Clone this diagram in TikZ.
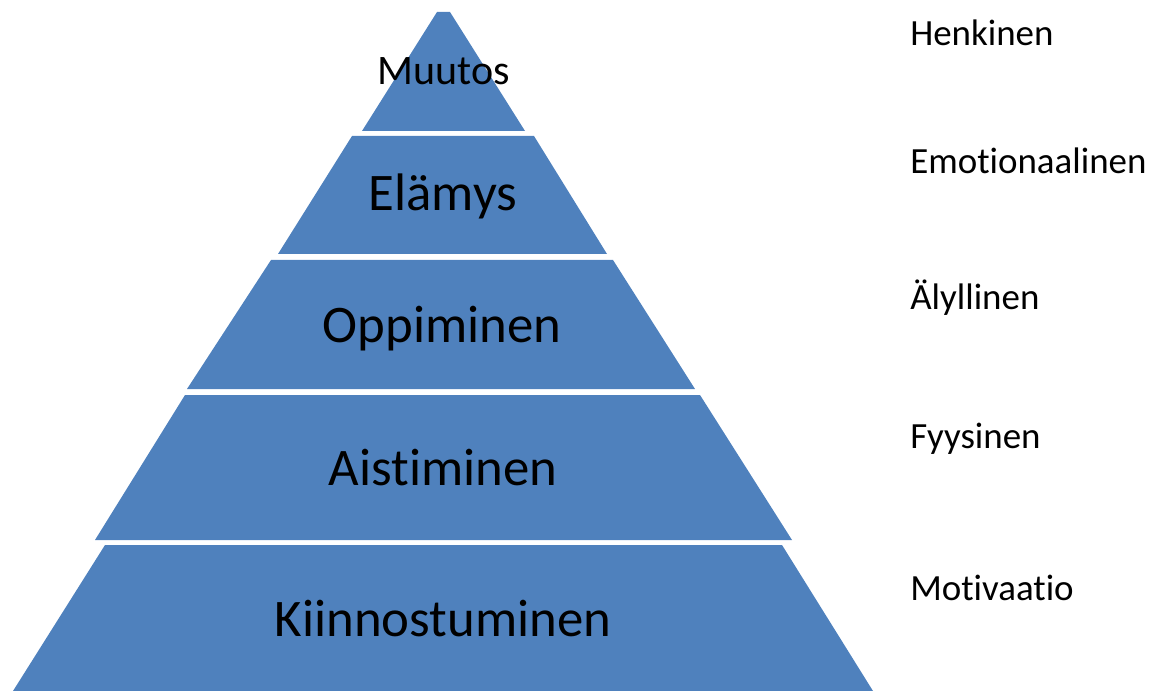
\documentclass[tikz,border=0pt]{standalone}
\usepackage{fontspec}
\setmainfont{Carlito}[Ligatures={NoCommon,NoContextual}]
\definecolor{tierblue}{HTML}{4F81BD}
\begin{document}
\begin{tikzpicture}[x=0.75pt,y=-0.75pt,
  tier/.style={fill=tierblue,draw=none},
  biglabel/.style={anchor=base,inner sep=0pt,font=\fontsize{39.6}{46}\selectfont},
  toplabel/.style={anchor=base,inner sep=0pt,font=\fontsize{31.5}{36}\selectfont},
  sidelabel/.style={anchor=base west,inner sep=0pt,font=\fontsize{27.7}{33}\selectfont}]
\useasboundingbox (0,0) rectangle (1162,691);
% tiers
\fill[tier] (437,12) -- (450,12) -- (525,131) -- (362,131) -- cycle;
\fill[tier] (352,136) -- (534,136) -- (607,254) -- (278,254) -- cycle;
\fill[tier] (271,260) -- (613,260) -- (695,389) -- (187,389) -- cycle;
\fill[tier] (185,395) -- (700,395) -- (792,540) -- (95,540) -- cycle;
\fill[tier] (105,545) -- (782,545) -- (873,691) -- (13,691) -- cycle;
% tier labels
\node[toplabel] (muutos) at (444,85) {Muutos};
\node[biglabel] (elamys) at (443,211) {Elämys};
\node[biglabel] (oppiminen) at (442,342) {Oppiminen};
\node[biglabel] (aistiminen) at (443,485) {Aistiminen};
\node[biglabel] (kiinnostuminen) at (443,636) {Kiinnostuminen};
% side labels
\node[sidelabel] (henkinen) at (910,46) {Henkinen};
\node[sidelabel] (emotionaalinen) at (910,174) {Emotionaalinen};
\node[sidelabel] (alyllinen) at (910,310) {Älyllinen};
\node[sidelabel] (fyysinen) at (910,448) {Fyysinen};
\node[sidelabel] (motivaatio) at (910,600) {Motivaatio};
\end{tikzpicture}
\end{document}
